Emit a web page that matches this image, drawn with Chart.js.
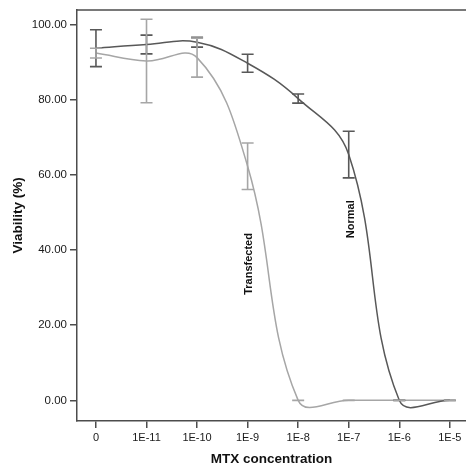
<!DOCTYPE html>
<html>
<head>
<meta charset="utf-8">
<script src="https://cdn.jsdelivr.net/npm/chart.js@4.4.0/dist/chart.umd.min.js"></script>
<style>
  html, body { margin: 0; padding: 0; background: #fff; }
  canvas { display: block; }
</style>
</head>
<body>
<canvas id="chart" width="466" height="470"></canvas>
<script>
// MTX concentrations on the x axis
const concentrations = ["0", "1E-11", "1E-10", "1E-9", "1E-8", "1E-7", "1E-6", "1E-5"];

// mean viability (%) and error bar half-lengths
const normalMean = [93.7, 94.7, 95.3, 89.7, 80.3, 65.4, 0, 0];
const normalErr = [4.9, 2.5, 1.3, 2.4, 1.2, 6.2, 0, 0];
const transfectedMean = [92.4, 90.3, 91.2, 62.3, 0, 0, 0, 0];
const transfectedErr = [1.3, 11.1, 5.2, 6.2, 0, 0, 0, 0];

const yTicks = [0, 20, 40, 60, 80, 100];

const FONT = "'Liberation Sans', Arial, sans-serif";
const AXIS = '#4d4d4d';
const DARK = '#585858';
const LIGHT = '#a6a6a6';

const toPoints = values => values.map((v, i) => ({ x: i, y: v }));

// error bars drawn through the scales
const errorBars = {
    id: 'errorBars',
    afterDatasetsDraw(chart) {
        const { ctx, chartArea, scales: { x, y } } = chart;
        ctx.save();
        ctx.beginPath();
        ctx.rect(chartArea.left, chartArea.top, chartArea.width, chartArea.height);
        ctx.clip();
        chart.data.datasets.forEach(ds => {
            ctx.strokeStyle = ds.borderColor;
            ctx.lineWidth = 1.6;
            ds.data.forEach((p, i) => {
                const px = x.getPixelForValue(p.x);
                const top = y.getPixelForValue(p.y + ds.err[i]);
                const bot = y.getPixelForValue(p.y - ds.err[i]);
                ctx.beginPath();
                ctx.moveTo(px, top); ctx.lineTo(px, bot);
                ctx.moveTo(px - 6, top); ctx.lineTo(px + 6, top);
                ctx.moveTo(px - 6, bot); ctx.lineTo(px + 6, bot);
                ctx.stroke();
            });
        });
        ctx.restore();
    }
};

// top frame line + curve labels
const decorations = {
    id: 'decorations',
    beforeDatasetsDraw(chart) {
        const { ctx, chartArea } = chart;
        ctx.save();
        ctx.strokeStyle = AXIS;
        ctx.lineWidth = 1.5;
        ctx.beginPath();
        ctx.moveTo(chartArea.left, chartArea.top);
        ctx.lineTo(chartArea.right, chartArea.top);
        ctx.stroke();
        ctx.restore();
    },
    afterDraw(chart) {
        const { ctx, scales: { x, y } } = chart;
        const labels = [
            { text: 'Transfected', at: [3.02, 36.3] },
            { text: 'Normal', at: [5.04, 48.2] }
        ];
        ctx.save();
        ctx.fillStyle = '#111';
        ctx.font = 'bold 11px ' + FONT;
        ctx.textAlign = 'center';
        ctx.textBaseline = 'middle';
        labels.forEach(l => {
            ctx.save();
            ctx.translate(x.getPixelForValue(l.at[0]), y.getPixelForValue(l.at[1]));
            ctx.rotate(-Math.PI / 2);
            ctx.fillText(l.text, 0, 0);
            ctx.restore();
        });
        ctx.restore();
    }
};

new Chart(document.getElementById('chart'), {
    type: 'line',
    data: {
        datasets: [
            {
                label: 'Normal',
                data: toPoints(normalMean),
                err: normalErr,
                borderColor: DARK,
                borderWidth: 1.5,
                pointRadius: 0,
                tension: 0.4
            },
            {
                label: 'Transfected',
                data: toPoints(transfectedMean),
                err: transfectedErr,
                borderColor: LIGHT,
                borderWidth: 1.5,
                pointRadius: 0,
                tension: 0.4
            }
        ]
    },
    options: {
        responsive: false,
        animation: false,
        devicePixelRatio: 1,
        layout: { padding: { top: 6, right: 0, left: 0, bottom: 0 } },
        plugins: {
            legend: { display: false },
            tooltip: { enabled: false }
        },
        scales: {
            x: {
                type: 'linear',
                min: -0.375,
                max: 7.32,
                afterBuildTicks: axis => { axis.ticks = concentrations.map((c, i) => ({ value: i })); },
                afterFit: axis => { axis.height = 49; },
                ticks: {
                    callback: v => concentrations[v],
                    color: '#1a1a1a',
                    font: { family: FONT, size: 11 },
                    padding: 3,
                    maxRotation: 0
                },
                grid: { drawOnChartArea: false, drawTicks: true, tickLength: 7, color: AXIS, lineWidth: 1.5 },
                border: { display: true, color: AXIS, width: 1.5 },
                title: {
                    display: true,
                    text: 'MTX concentration',
                    color: '#111',
                    font: { family: FONT, size: 13.5, weight: 'bold' },
                    padding: { top: 0, bottom: 2.4 }
                }
            },
            y: {
                min: -5.5,
                max: 103.9,
                afterBuildTicks: axis => { axis.ticks = yTicks.map(v => ({ value: v })); },
                afterFit: axis => { axis.width = 77; },
                ticks: {
                    callback: v => v.toFixed(2),
                    color: '#1a1a1a',
                    font: { family: FONT, size: 11.5 },
                    padding: 3
                },
                grid: { drawOnChartArea: false, drawTicks: true, tickLength: 7, color: AXIS, lineWidth: 1.5 },
                border: { display: true, color: AXIS, width: 1.5 },
                title: {
                    display: true,
                    text: 'Viability (%)',
                    color: '#111',
                    font: { family: FONT, size: 13.5, weight: 'bold' },
                    padding: { top: 10.4, bottom: 0 }
                }
            }
        }
    },
    plugins: [errorBars, decorations]
});
</script>
</body>
</html>
